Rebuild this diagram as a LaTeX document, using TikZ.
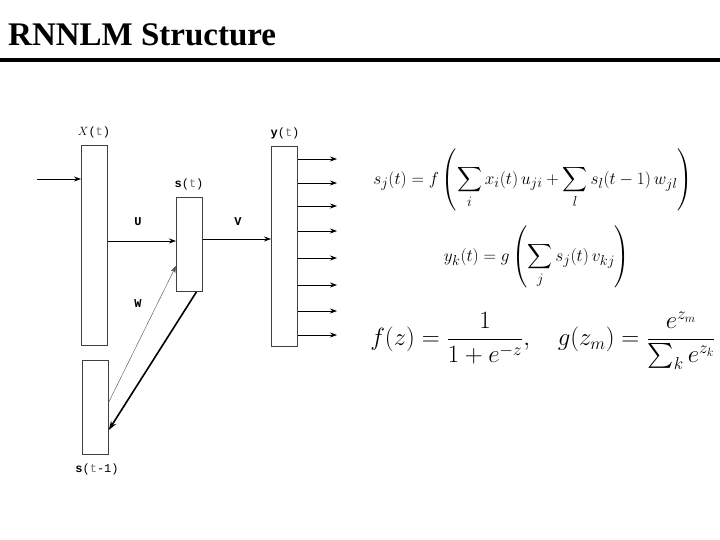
\documentclass[tikz,border=0pt]{standalone}
\usepackage{fontspec}
\usepackage{amsmath}
\setmainfont{Liberation Serif}
\newfontfamily\labfont{Liberation Mono}
\usetikzlibrary{arrows.meta}
\tikzset{
  layer/.style={draw=black!75, line width=0.8pt, fill=white},
  conn/.style={line width=0.7pt, -{Stealth[length=7pt,width=5pt]}},
  lab/.style={font=\labfont\fontsize{12}{14}\selectfont, inner sep=0pt},
  wlab/.style={font=\labfont\bfseries\fontsize{12}{14}\selectfont, inner sep=0pt},
  eqn/.style={inner sep=0pt, font=\fontsize{19}{23}\selectfont}
}
\begin{document}
\begin{tikzpicture}[x=1pt,y=-1pt]
\useasboundingbox (0,0) rectangle (720,540);
% title
\node[anchor=base west, inner sep=0pt, font=\bfseries\fontsize{33}{36}\selectfont] (title) at (8,46) {RNNLM Structure};
\draw[line width=4pt] (0,60) -- (720,60);
% layers
\node[layer, minimum width=26pt, minimum height=200pt, inner sep=0pt, anchor=north west] (x) at (81,145) {};
\node[layer, minimum width=26pt, minimum height=94pt, inner sep=0pt, anchor=north west] (s) at (176,197) {};
\node[layer, minimum width=26pt, minimum height=200pt, inner sep=0pt, anchor=north west] (y) at (271,146) {};
\node[layer, minimum width=26pt, minimum height=94pt, inner sep=0pt, anchor=north west] (sp) at (82,360) {};
% labels
\node[lab] (xl) at (94,132) {$X$(\textcolor{black!55}{t})};
\node[lab] (sl) at (189,184) {\textbf{s}(\textcolor{black!55}{t})};
\node[lab] (yl) at (285,133) {\textbf{y}(\textcolor{black!55}{t})};
\node[lab] (spl) at (97,469) {\textbf{s}(\textcolor{black!55}{t}-1)};
\node[wlab] (U) at (138,222) {U};
\node[wlab] (V) at (238,222) {V};
\node[wlab] (W) at (138,304) {W};
% connectors
\coordinate (in) at (37,179);
\draw[conn] (in) -- (x.west |- in);
\draw[conn] (x.east |- 0,241) -- (s.west |- 0,241);
\draw[conn] (s.east |- 0,239) -- (y.west |- 0,239);
\draw[conn, line width=0.4pt, draw=black!70] (sp.east |- 0,402) -- (s.west |- 0,266);
\draw[line width=1.6pt, -{Stealth[length=9pt,width=6pt]}] (s.south -| 196.5,0) -- (sp.east |- 0,430);
\foreach \yy [count=\i] in {159,183,206,231,258,285,311,335}{
  \coordinate (o\i) at (337,\yy);
  \draw[conn] (y.east |- o\i) -- (o\i);
}
% equations
\node[eqn] (eq1) at (533,180) {$\displaystyle s_j(t) = f\left(\sum_i x_i(t)\,u_{ji} + \sum_l s_l(t-1)\,w_{jl}\right)$};
\node[eqn] (eq2) at (537,257) {$\displaystyle y_k(t) = g\left(\sum_j s_j(t)\,v_{kj}\right)$};
\node[eqn, font=\fontsize{23.5}{28}\selectfont] (eq3) at (543,341) {$\displaystyle f(z) = \frac{1}{1+e^{-z}},\quad g(z_m) = \frac{e^{z_m}}{\textstyle\sum_k e^{z_k}}$};
\end{tikzpicture}
\end{document}
